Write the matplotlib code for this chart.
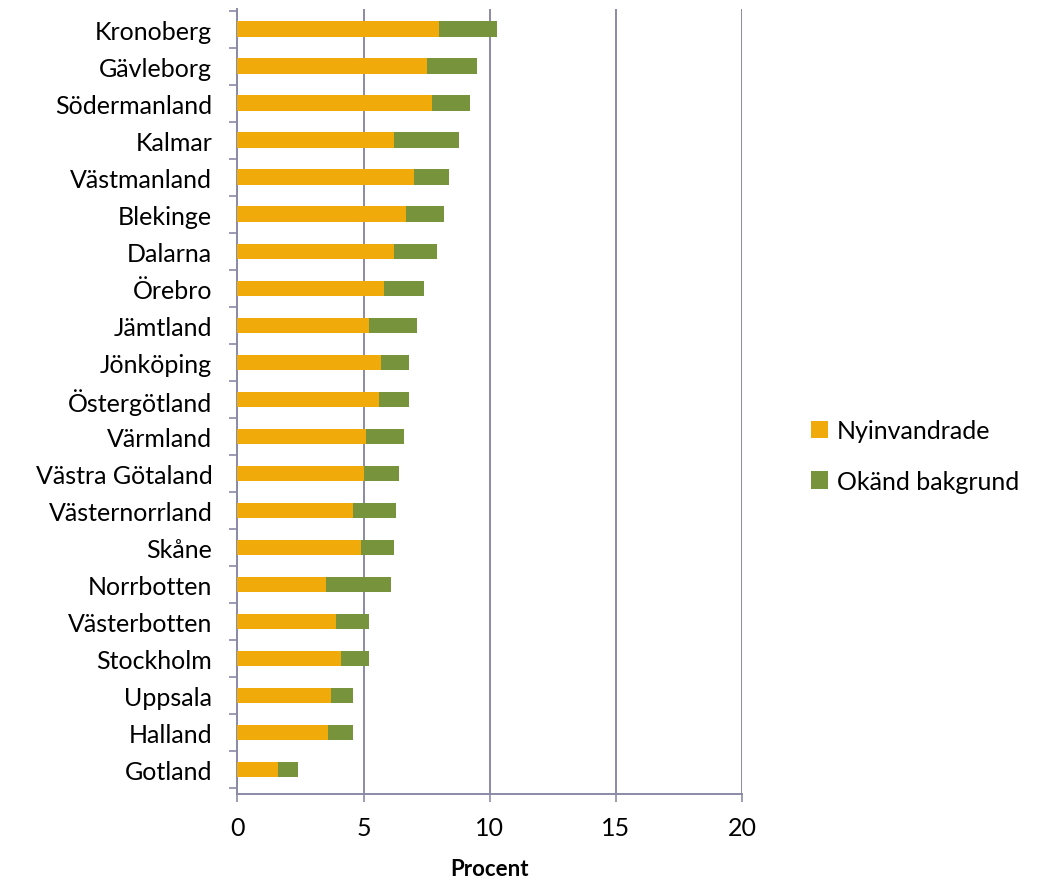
import numpy as np
import matplotlib
matplotlib.use("Agg")
import matplotlib.pyplot as plt

plt.rcParams['font.family'] = ['Lato', 'DejaVu Sans']

lan = ["Kronoberg", "Gävleborg", "Södermanland", "Kalmar", "Västmanland",
       "Blekinge", "Dalarna", "Örebro", "Jämtland", "Jönköping",
       "Östergötland", "Värmland", "Västra Götaland", "Västernorrland",
       "Skåne", "Norrbotten", "Västerbotten", "Stockholm", "Uppsala",
       "Halland", "Gotland"]
nyinvandrade = [8.0, 7.5, 7.7, 6.2, 7.0, 6.7, 6.2, 5.8, 5.2, 5.7, 5.6,
                5.1, 5.0, 4.6, 4.9, 3.5, 3.9, 4.1, 3.7, 3.6, 1.6]
okand = [2.3, 2.0, 1.5, 2.6, 1.4, 1.5, 1.7, 1.6, 1.9, 1.1, 1.2,
         1.5, 1.4, 1.7, 1.3, 2.6, 1.3, 1.1, 0.9, 1.0, 0.8]

orange = '#F0AA0A'
green = '#77933C'
axcol = '#8A8AA8'

fig = plt.figure(figsize=(10.41, 8.87), dpi=100)
ax = fig.add_axes([0.228, 0.104, 0.485, 0.885])

y = np.arange(len(lan))
ax.barh(y, nyinvandrade, height=0.42, color=orange, label='Nyinvandrade', zorder=3)
ax.barh(y, okand, left=nyinvandrade, height=0.42, color=green,
        label='Okänd bakgrund', zorder=3)

ax.set_xlim(0, 20)
ax.set_ylim(len(lan) - 0.35, -0.55)
ax.set_xticks([0, 5, 10, 15, 20])
ax.set_yticks(y)
ax.set_yticklabels(lan)
ax.set_yticks(np.arange(-0.5, len(lan), 1), minor=True)
ax.tick_params(axis='y', which='major', length=0, pad=18, labelsize=18)
ax.tick_params(axis='y', which='minor', length=6, color=axcol, width=1.2)
ax.tick_params(axis='x', length=6, color=axcol, width=1.2, labelsize=18, pad=10)
ax.xaxis.grid(True, color=axcol, linewidth=1.4, zorder=0)

for s in ['top', 'right']:
    ax.spines[s].set_visible(False)
for s in ['left', 'bottom']:
    ax.spines[s].set_color(axcol)
    ax.spines[s].set_linewidth(1.4)

ax.set_xlabel('Procent', fontsize=16, fontweight='bold', labelpad=14)

fig.legend(loc='center left', bbox_to_anchor=(0.757, 0.485), frameon=False,
           fontsize=18, handlelength=0.7, handleheight=0.7,
           handletextpad=0.35, labelspacing=1.1)

fig.savefig('out.png', dpi=100)
